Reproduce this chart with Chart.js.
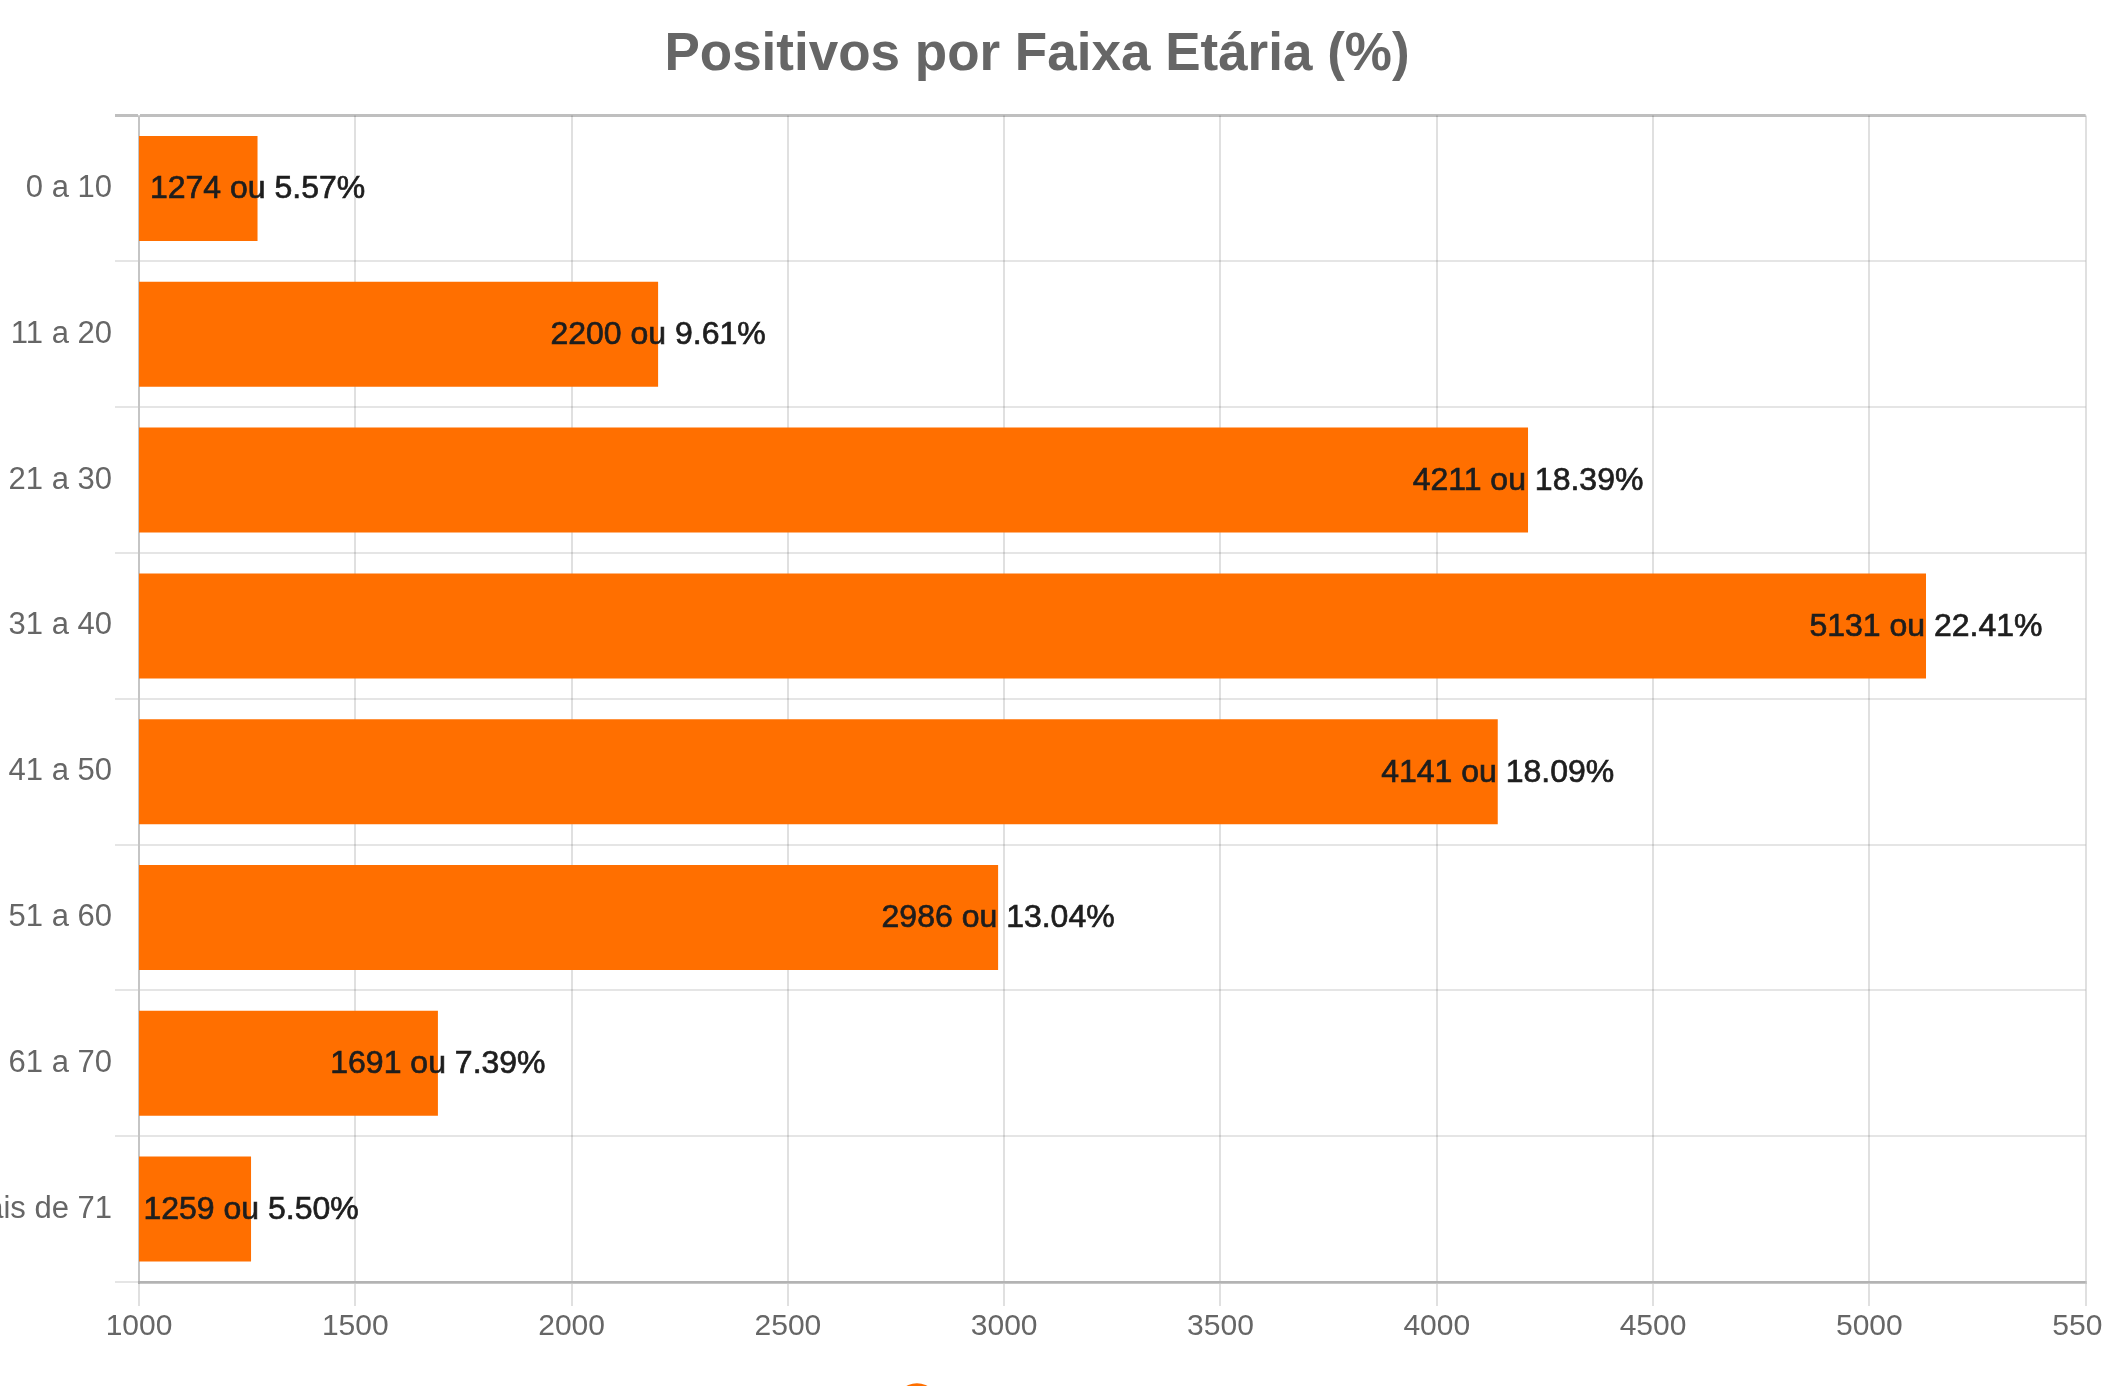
<!DOCTYPE html>
<html>
<head>
<meta charset="utf-8">
<script src="https://cdn.jsdelivr.net/npm/chart.js@4/dist/chart.umd.min.js"></script>
<style>
  html, body { margin: 0; padding: 0; background: #fff; overflow: hidden; }
  #wrap { position: absolute; left: -48px; top: 0; width: 2170px; height: 1432px; }
</style>
</head>
<body>
<div id="wrap"><canvas id="faixas"></canvas></div>
<script>
const faixas = ['0 a 10', '11 a 20', '21 a 30', '31 a 40', '41 a 50', '51 a 60', '61 a 70', 'Mais de 71'];
const positivos = [1274, 2200, 4211, 5131, 4141, 2986, 1691, 1259];
const xTicks = [1000, 1500, 2000, 2500, 3000, 3500, 4000, 4500, 5000, 5500];

Chart.defaults.font.family = "'Liberation Sans', Arial, Helvetica, sans-serif";
Chart.defaults.color = '#666';

const total = positivos.reduce((a, b) => a + b, 0);

// rotulo "valor ou %" centrado no fim de cada barra
const rotulos = {
  id: 'rotulos',
  afterDatasetsDraw(chart) {
    const ctx = chart.ctx;
    const meta = chart.getDatasetMeta(0);
    ctx.save();
    ctx.font = "32px 'Liberation Sans', Arial, sans-serif";
    ctx.fillStyle = '#1e1e1e';
    ctx.strokeStyle = '#1e1e1e';
    ctx.lineWidth = 0.7;
    ctx.textAlign = 'center';
    ctx.textBaseline = 'middle';
    meta.data.forEach((bar, i) => {
      const v = positivos[i];
      const pct = (v / total * 100).toFixed(2);
      const txt = v + ' ou ' + pct + '%';
      ctx.fillText(txt, bar.x, bar.y + 1);
      ctx.strokeText(txt, bar.x, bar.y + 1);
    });
    ctx.restore();
  }
};

new Chart(document.getElementById('faixas'), {
  type: 'bar',
  data: {
    labels: faixas,
    datasets: [{
      label: 'Casos positivos',
      data: positivos,
      backgroundColor: '#ff6f00',
      borderWidth: 0
    }]
  },
  options: {
    indexAxis: 'y',
    responsive: true,
    maintainAspectRatio: false,
    animation: false,
    plugins: {
      title: {
        display: true,
        text: 'Positivos por Faixa Etária (%)',
        color: '#666',
        font: { size: 53, weight: 'bold' },
        padding: { top: 24, bottom: 28 }
      },
      legend: {
        position: 'bottom',
        labels: { usePointStyle: true, pointStyle: 'circle', font: { size: 32 }, padding: 42 }
      },
      tooltip: { enabled: false }
    },
    scales: {
      x: {
        min: 1000,
        max: 5500,
        afterBuildTicks(scale) { scale.ticks = xTicks.map(v => ({ value: v })); },
        ticks: { font: { size: 30 }, color: '#666', padding: 3, callback: v => String(v) },
        grid: { color: 'rgba(0,0,0,0.12)', lineWidth: 2, tickLength: 24 },
        border: { color: 'rgba(0,0,0,0.22)', width: 3 }
      },
      y: {
        afterFit(scale) { scale.width = 187; },
        ticks: { font: { size: 31 }, color: '#666', padding: 3 },
        grid: {
          color: c => c.index === 0 ? 'rgba(0,0,0,0.25)' : 'rgba(0,0,0,0.1)',
          lineWidth: c => c.index === 0 ? 3 : 2,
          tickLength: 24
        },
        border: { color: 'rgba(0,0,0,0.12)', width: 2 }
      }
    }
  },
  plugins: [rotulos]
});
</script>
</body>
</html>
